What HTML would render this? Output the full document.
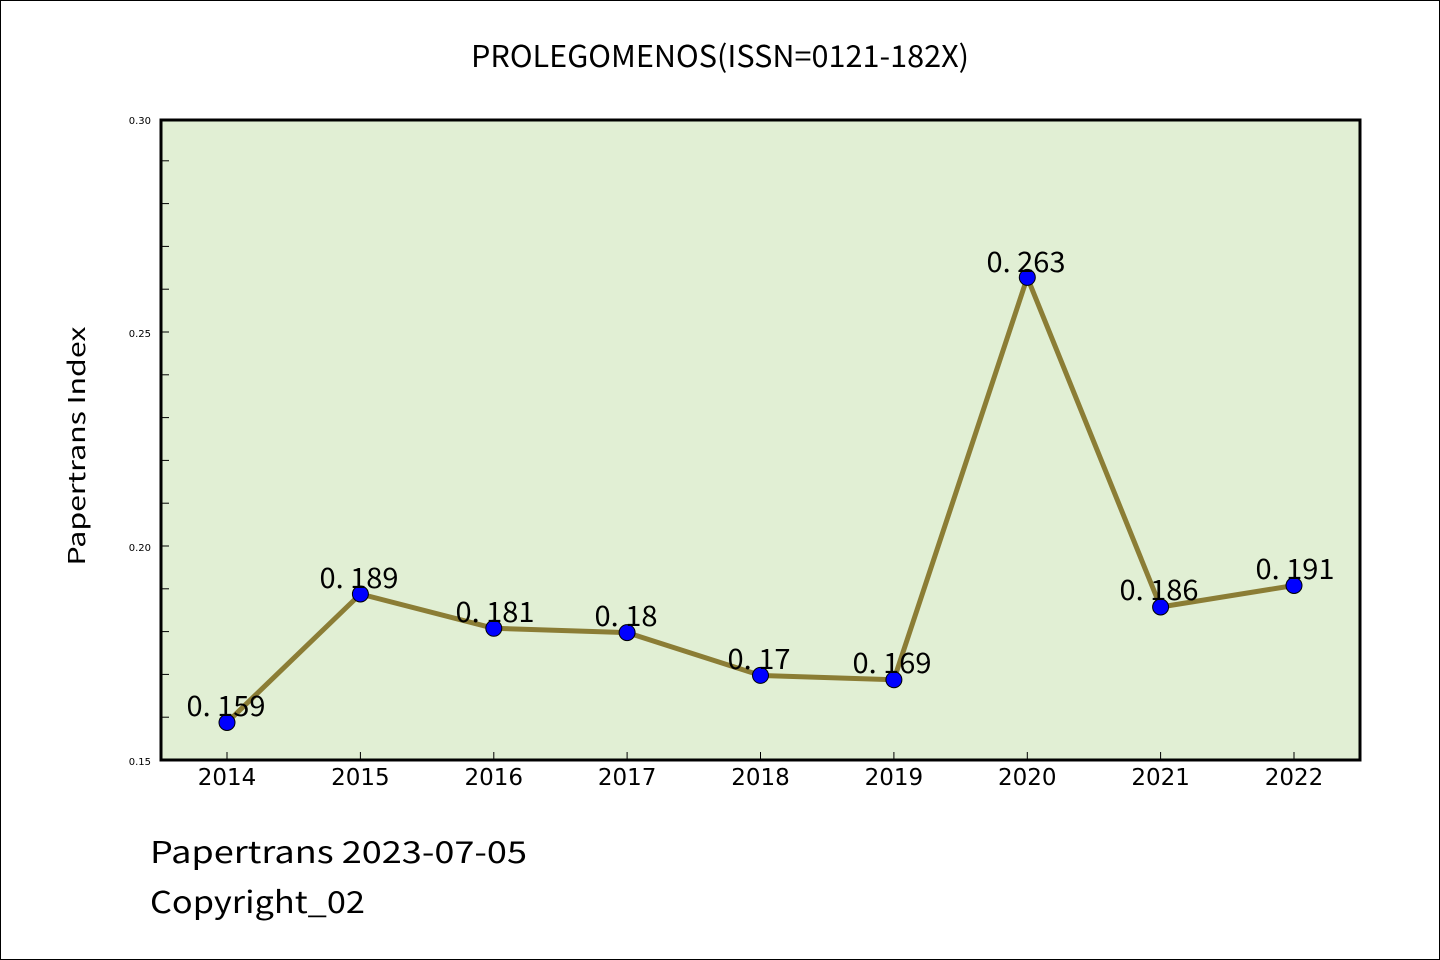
<!DOCTYPE html>
<html><head><style>html,body{margin:0;padding:0;background:#fff}svg{display:block}</style></head><body>
<svg width="1440" height="960" xmlns="http://www.w3.org/2000/svg">
<rect x="0.5" y="0.5" width="1439" height="959" fill="#fff" stroke="#000" stroke-width="1"/>
<g font-family="'WenQuanYi Zen Hei','Noto Sans CJK SC',sans-serif" fill="#000">
<text x="720" y="67" font-size="30" text-anchor="middle" textLength="498" lengthAdjust="spacingAndGlyphs">PROLEGOMENOS(ISSN=0121-182X)</text>
<text x="150" y="863" font-size="30" textLength="377" lengthAdjust="spacingAndGlyphs">Papertrans 2023-07-05</text>
<text x="150" y="913" font-size="30" textLength="215" lengthAdjust="spacingAndGlyphs">Copyright_02</text>
<text transform="translate(85,446) rotate(-90)" font-size="23" text-anchor="middle" textLength="239" lengthAdjust="spacingAndGlyphs">Papertrans Index</text>
</g>
<rect x="161" y="120" width="1199" height="640" fill="#e1efd4"/>
<g stroke="#000" stroke-width="1">
<line x1="161" y1="717.2" x2="169" y2="717.2"/><line x1="161" y1="674.4" x2="169" y2="674.4"/><line x1="161" y1="631.6" x2="169" y2="631.6"/><line x1="161" y1="588.8" x2="169" y2="588.8"/><line x1="161" y1="546" x2="169" y2="546"/>
<line x1="161" y1="503.2" x2="169" y2="503.2"/><line x1="161" y1="460.4" x2="169" y2="460.4"/><line x1="161" y1="417.6" x2="169" y2="417.6"/><line x1="161" y1="374.8" x2="169" y2="374.8"/><line x1="161" y1="332" x2="169" y2="332"/>
<line x1="161" y1="289.2" x2="169" y2="289.2"/><line x1="161" y1="246.4" x2="169" y2="246.4"/><line x1="161" y1="203.6" x2="169" y2="203.6"/><line x1="161" y1="160.8" x2="169" y2="160.8"/>
<line x1="227" y1="760" x2="227" y2="752"/><line x1="360.4" y1="760" x2="360.4" y2="752"/><line x1="493.8" y1="760" x2="493.8" y2="752"/><line x1="627.1" y1="760" x2="627.1" y2="752"/><line x1="760.5" y1="760" x2="760.5" y2="752"/><line x1="893.9" y1="760" x2="893.9" y2="752"/><line x1="1027.3" y1="760" x2="1027.3" y2="752"/><line x1="1160.6" y1="760" x2="1160.6" y2="752"/><line x1="1294" y1="760" x2="1294" y2="752"/>
</g>
<rect x="161" y="120" width="1199" height="640" fill="none" stroke="#000" stroke-width="3"/>
<g font-family="'DejaVu Sans',sans-serif" font-size="10" fill="#000" text-anchor="end">
<text x="151" y="124">0.30</text><text x="151" y="337">0.25</text><text x="151" y="551">0.20</text><text x="151" y="765">0.15</text>
</g>
<g font-family="'DejaVu Sans',sans-serif" font-size="23" fill="#000" text-anchor="middle">
<text x="227" y="785">2014</text><text x="360.4" y="785">2015</text><text x="493.8" y="785">2016</text><text x="627.1" y="785">2017</text><text x="760.5" y="785">2018</text><text x="893.9" y="785">2019</text><text x="1027.3" y="785">2020</text><text x="1160.6" y="785">2021</text><text x="1294" y="785">2022</text>
</g>
<polyline fill="none" stroke="#8b7d35" stroke-width="5" stroke-linejoin="round" points="227,722.5 360.4,594 493.8,628.3 627.1,632.6 760.5,675.4 893.9,679.7 1027.3,277.4 1160.6,607 1294,585.5"/>
<g fill="#0000ff" stroke="#000" stroke-width="1">
<circle cx="227" cy="722.5" r="8"/><circle cx="360.4" cy="594" r="8"/><circle cx="493.8" cy="628.3" r="8"/><circle cx="627.1" cy="632.6" r="8"/><circle cx="760.5" cy="675.4" r="8"/><circle cx="893.9" cy="679.7" r="8"/><circle cx="1027.3" cy="277.4" r="8"/><circle cx="1160.6" cy="607" r="8"/><circle cx="1294" cy="585.5" r="8"/>
</g>
<g font-family="'WenQuanYi Zen Hei','Noto Sans CJK SC',sans-serif" font-size="28" fill="#000" text-anchor="middle">
<text x="226" y="716" textLength="79" lengthAdjust="spacingAndGlyphs">0. 159</text><text x="359" y="588" textLength="79" lengthAdjust="spacingAndGlyphs">0. 189</text><text x="495" y="622" textLength="79" lengthAdjust="spacingAndGlyphs">0. 181</text><text x="626" y="626" textLength="63" lengthAdjust="spacingAndGlyphs">0. 18</text><text x="759" y="669" textLength="63" lengthAdjust="spacingAndGlyphs">0. 17</text><text x="892" y="673" textLength="79" lengthAdjust="spacingAndGlyphs">0. 169</text><text x="1026" y="272" textLength="79" lengthAdjust="spacingAndGlyphs">0. 263</text><text x="1159" y="600" textLength="79" lengthAdjust="spacingAndGlyphs">0. 186</text><text x="1295" y="579" textLength="79" lengthAdjust="spacingAndGlyphs">0. 191</text>
</g>
</svg>
</body></html>
